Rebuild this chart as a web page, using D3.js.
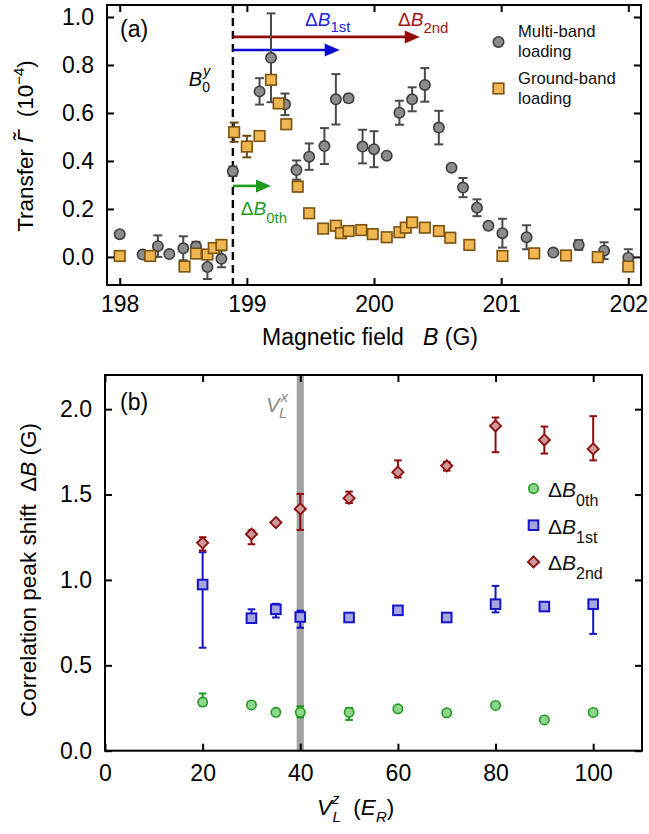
<!DOCTYPE html>
<html><head><meta charset="utf-8">
<script src="https://cdn.jsdelivr.net/npm/d3@7"></script>
<style>
body{margin:0;background:#fff;}
svg{display:block;font-family:"Liberation Sans",Arial,sans-serif;}
text{white-space:pre;}
</style></head><body>
<svg id="chart" width="649" height="834"></svg>
<script>
// ---------- Panel (a) data ----------
const multiB = [198.00,198.18,198.30,198.39,198.50,198.60,198.69,198.80,198.89,199.10,199.19,199.30,199.39,199.49,199.61,199.70,199.80,199.91,200.00,200.10,200.20,200.30,200.40,200.51,200.61,200.70,200.81,200.90,201.01,201.20,201.41,201.61,201.81,202.00];
const multiT = [0.095,0.010,0.045,0.012,0.036,0.043,-0.042,-0.008,0.357,0.690,0.830,0.636,0.362,0.418,0.462,0.657,0.661,0.460,0.449,0.422,0.601,0.657,0.717,0.539,0.372,0.289,0.205,0.130,0.099,0.082,0.018,0.050,0.026,-0.003];
const multiErr = [0,0,0.045,0,0.050,0.020,0.050,0.035,0.020,0.055,0.185,0.045,0.040,0.055,0.075,0.105,0.015,0.070,0.075,0,0.050,0.050,0.070,0.070,0.010,0.040,0.035,0.010,0.060,0.050,0,0.020,0.035,0.035];

const groundB = [198.00,198.24,198.51,198.60,198.69,198.74,198.80,198.90,199.00,199.10,199.19,199.25,199.31,199.40,199.49,199.60,199.70,199.74,199.80,199.90,199.99,200.10,200.20,200.25,200.30,200.40,200.51,200.60,200.75,201.01,201.26,201.51,201.76,202.00];
const groundT = [0.004,0.004,-0.040,0.014,0.010,0.037,0.050,0.520,0.460,0.504,0.738,0.640,0.553,0.293,0.182,0.118,0.130,0.099,0.108,0.112,0.095,0.082,0.103,0.122,0.144,0.122,0.108,0.080,0.050,0.004,0.015,0.006,-0.001,-0.040];
const groundErr = [0,0,0,0,0,0,0,0.040,0.045,0,0,0,0,0.020,0,0,0,0,0,0,0,0,0,0.020,0,0,0,0,0,0,0,0,0,0];

const aXTicks = [198,199,200,201,202];
const aYTicks = [0,0.2,0.4,0.6,0.8,1.0];
const resonanceB0 = 198.89;
const arrowNames = ["0th","1st","2nd"];
const arrowEnds = [199.19,199.73,200.36];
const arrowLevels = [0.296,0.8625,0.917];
const legendA = ["Multi-band|loading","Ground-band|loading"];

// ---------- Panel (b) data ----------
const latticeDepth = [20,30,35,40,50,60,70,80,90,100];
const shift0th   = [0.285,0.268,0.225,0.225,0.225,0.245,0.222,0.265,0.180,0.224];
const shift0thLo = [0.265,0.268,0.225,0.195,0.180,0.245,0.222,0.265,0.180,0.224];
const shift0thHi = [0.335,0.268,0.225,0.260,0.250,0.245,0.222,0.265,0.180,0.224];
const shift1st   = [0.973,0.776,0.828,0.783,0.780,0.822,0.780,0.858,0.844,0.858];
const shift1stLo = [0.603,0.750,0.780,0.720,0.780,0.822,0.780,0.810,0.844,0.684];
const shift1stHi = [1.162,0.828,0.860,0.820,0.780,0.822,0.780,0.965,0.844,0.870];
const shift2nd   = [1.217,1.268,1.336,1.416,1.479,1.631,1.668,1.902,1.820,1.767];
const shift2ndLo = [1.172,1.209,1.336,1.293,1.450,1.600,1.640,1.748,1.740,1.700];
const shift2ndHi = [1.250,1.290,1.336,1.504,1.517,1.700,1.690,1.951,1.898,1.959];
const bXTicks = [0,20,40,60,80,100];
const bYTicks = [0,0.5,1.0,1.5,2.0];
const latticeVLx = 40;

// ---------- styles ----------
const FONT = 23;
const cGreen = "#1f9a1f", cBlue = "#1414c8", cRed = "#8e0c0c";
const svg = d3.select("#chart");

function rich(g, x, y, parts, o) {
  o = o || {};
  const t = g.append("text").attr("x", x).attr("y", y)
    .attr("fill", o.fill || "#000").attr("font-size", o.size || FONT);
  if (o.anchor) t.attr("text-anchor", o.anchor);
  if (o.transform) t.attr("transform", o.transform);
  parts.forEach(p => {
    const s = t.append("tspan").text(p.t);
    if (p.i) s.attr("font-style", "italic");
    if (p.s) s.attr("font-size", p.s);
    if (p.dy) s.attr("dy", p.dy);
    if (p.dx) s.attr("dx", p.dx);
  });
  return t;
}

function styleAxis(g) {
  g.select(".domain").remove();
  g.selectAll(".tick line").attr("stroke", "#000").attr("stroke-width", 2);
  g.selectAll(".tick text").attr("font-size", FONT).attr("fill", "#000")
    .attr("font-family", '"Liberation Sans",Arial,sans-serif');
  g.attr("font-family", null).attr("font-size", null);
}

function frameAxes(g, x, y, xt, yt, xfmt, yfmt, xpad, ypad) {
  const [x0, x1] = x.range(), [y0, y1] = y.range();
  g.append("g").attr("transform", `translate(0,${y0})`)
    .call(d3.axisBottom(x).tickValues(xt).tickSize(-7).tickPadding(xpad).tickFormat(xfmt)).call(styleAxis);
  g.append("g").attr("transform", `translate(0,${y1})`)
    .call(d3.axisTop(x).tickValues(xt).tickSize(-7).tickFormat("")).call(styleAxis);
  g.append("g").attr("transform", `translate(${x0},0)`)
    .call(d3.axisLeft(y).tickValues(yt).tickSize(-7).tickPadding(ypad).tickFormat(yfmt)).call(styleAxis);
  g.append("g").attr("transform", `translate(${x1},0)`)
    .call(d3.axisRight(y).tickValues(yt).tickSize(-7).tickFormat("")).call(styleAxis);
  g.append("rect").attr("x", x0).attr("y", y1).attr("width", x1 - x0).attr("height", y0 - y1)
    .attr("fill", "none").attr("stroke", "#000").attr("stroke-width", 2);
}

// =============== Panel (a) ===============
const xa = d3.scaleLinear().domain([197.9, 202.1]).range([107, 641]);
const ya = d3.scaleLinear().domain([-0.117, 1.05]).range([285, 5]);
const ga = svg.append("g");

// dashed B0 line
ga.append("line").attr("x1", xa(resonanceB0)).attr("x2", xa(resonanceB0))
  .attr("y1", ya.range()[1]).attr("y2", ya.range()[0])
  .attr("stroke", "#000").attr("stroke-width", 2.4).attr("stroke-dasharray", "8,5");

// arrows
const arrowCols = [cGreen, "#0a0ad0", "#920a0a"];
arrowNames.forEach((n, i) => {
  const xs = xa(resonanceB0), xe = xa(arrowEnds[i]), yy = ya(arrowLevels[i]);
  ga.append("line").attr("x1", xs).attr("x2", xe - 12).attr("y1", yy).attr("y2", yy)
    .attr("stroke", arrowCols[i]).attr("stroke-width", 2.6);
  ga.append("path").attr("d", `M${xe},${yy} L${xe - 15},${yy - 6.5} L${xe - 15},${yy + 6.5} Z`)
    .attr("fill", arrowCols[i]);
});

const multi = multiB.map((b, i) => ({b, v: multiT[i], e: multiErr[i]}));
const ground = groundB.map((b, i) => ({b, v: groundT[i], e: groundErr[i]}));
function errA(g, data, col) {
  const d = data.filter(p => p.e > 0);
  const eg = g.append("g").attr("stroke", col).attr("stroke-width", 2);
  eg.selectAll(".v").data(d).join("line")
    .attr("x1", p => xa(p.b)).attr("x2", p => xa(p.b))
    .attr("y1", p => ya(p.v - p.e)).attr("y2", p => ya(p.v + p.e));
  [-1, 1].forEach(s => eg.selectAll(".c" + s).data(d).join("line")
    .attr("x1", p => xa(p.b) - 4.5).attr("x2", p => xa(p.b) + 4.5)
    .attr("y1", p => ya(p.v + s * p.e)).attr("y2", p => ya(p.v + s * p.e)));
}
errA(ga, multi, "#4a4a4a");
ga.append("g").selectAll("circle").data(multi).join("circle")
  .attr("cx", p => xa(p.b)).attr("cy", p => ya(p.v)).attr("r", 5.2)
  .attr("fill", "#8c8c8c").attr("stroke", "#3e3e3e").attr("stroke-width", 1.6);
errA(ga, ground, "#6b4a10");
ga.append("g").selectAll("rect").data(ground).join("rect")
  .attr("x", p => xa(p.b) - 5.3).attr("y", p => ya(p.v) - 5.3).attr("width", 10.6).attr("height", 10.6)
  .attr("fill", "#f0b652").attr("stroke", "#7c5210").attr("stroke-width", 1.6);

frameAxes(ga, xa, ya, aXTicks, aYTicks, d3.format("d"), d3.format(".1f"), 11, 13);

// labels panel a
rich(ga, 120, 37, [{t: "(a)"}], {size: 23});
const bx0 = xa(resonanceB0);
rich(ga, bx0 - 44, 86, [{t: "B", i: 1}, {t: "y", i: 1, s: 14, dx: 1, dy: -10}, {t: "0", s: 14, dx: -8, dy: 16}], {size: 20});
rich(ga, bx0 + 8, 215, [{t: "Δ"}, {t: "B", i: 1}, {t: "0th", s: 15, dy: 8}], {size: 19, fill: cGreen});
rich(ga, 305, 26, [{t: "Δ"}, {t: "B", i: 1}, {t: "1st", s: 15, dy: 6}], {size: 19, fill: "#2222dd"});
rich(ga, 398, 25.5, [{t: "Δ"}, {t: "B", i: 1}, {t: "2nd", s: 15, dy: 7.5}], {size: 19, fill: "#a01414"});

// legend a
ga.append("circle").attr("cx", 498.5).attr("cy", 42).attr("r", 5.2)
  .attr("fill", "#8c8c8c").attr("stroke", "#3e3e3e").attr("stroke-width", 1.6);
ga.append("rect").attr("x", 498.5 - 5.3).attr("y", 88.5 - 5.3).attr("width", 10.6).attr("height", 10.6)
  .attr("fill", "#f0b652").attr("stroke", "#7c5210").attr("stroke-width", 1.6);
legendA.forEach((s, i) => {
  const lines = s.split("|");
  lines.forEach((l, j) => rich(ga, 518, 37 + i * 46.5 + j * 20, [{t: l}], {size: 16.6, fill: "#111"}));
});

// axis titles a
rich(ga, 370, 345, [{t: "Magnetic field   "}, {t: "B", i: 1}, {t: " (G)"}], {anchor: "middle", size: 23});
rich(ga, 33, 146, [{t: "Transfer "}, {t: "Γ\u0303", i: 1}, {t: "  (10"}, {t: "−4", s: 15, dy: -9}, {t: ")", dy: 9}],
  {anchor: "middle", size: 22.5, transform: "rotate(-90,33,146)"});

// =============== Panel (b) ===============
const xb = d3.scaleLinear().domain([0, 110]).range([105, 642]);
const yb = d3.scaleLinear().domain([0, 2.2]).range([750.7, 375]);
const gb = svg.append("g");

gb.append("rect").attr("x", xb(latticeVLx) - 3.6).attr("width", 7.2)
  .attr("y", yb.range()[1]).attr("height", yb.range()[0] - yb.range()[1])
  .attr("fill", "#a3a3a3");
rich(gb, xb(latticeVLx) - 34, 412, [{t: "V", i: 1}, {t: "x", i: 1, s: 15, dx: 1, dy: -10}, {t: "L", i: 1, s: 15, dx: -9, dy: 16}],
  {size: 20, fill: "#8a8a8a"});

const seriesB = [
  {name: "0th", v: shift0th, lo: shift0thLo, hi: shift0thHi, stroke: cGreen, fill: "#8fd48f", shape: "circle"},
  {name: "1st", v: shift1st, lo: shift1stLo, hi: shift1stHi, stroke: cBlue, fill: "#a6a6de", shape: "square"},
  {name: "2nd", v: shift2nd, lo: shift2ndLo, hi: shift2ndHi, stroke: cRed, fill: "#cc9a9a", shape: "diamond"}
];
function marker(g, shape, cx, cy, fill, stroke) {
  if (shape === "circle") return g.append("circle").attr("cx", cx).attr("cy", cy).attr("r", 4.7)
    .attr("fill", fill).attr("stroke", stroke).attr("stroke-width", 1.6);
  if (shape === "square") return g.append("rect").attr("x", cx - 4.8).attr("y", cy - 4.8).attr("width", 9.6).attr("height", 9.6)
    .attr("fill", fill).attr("stroke", stroke).attr("stroke-width", 2);
  return g.append("path").attr("d", `M${cx},${cy - 5.6} L${cx + 5.6},${cy} L${cx},${cy + 5.6} L${cx - 5.6},${cy} Z`)
    .attr("fill", fill).attr("stroke", stroke).attr("stroke-width", 1.8);
}
seriesB.forEach(s => {
  const pts = latticeDepth.map((d, i) => ({d, v: s.v[i], lo: s.lo[i], hi: s.hi[i]}));
  const eg = gb.append("g").attr("stroke", s.stroke).attr("stroke-width", 2);
  pts.filter(p => p.hi > p.lo).forEach(p => {
    eg.append("line").attr("x1", xb(p.d)).attr("x2", xb(p.d)).attr("y1", yb(p.lo)).attr("y2", yb(p.hi));
    [p.lo, p.hi].filter(e => e !== p.v).forEach(e =>
      eg.append("line").attr("x1", xb(p.d) - 3.8).attr("x2", xb(p.d) + 3.8).attr("y1", yb(e)).attr("y2", yb(e)));
  });
  pts.forEach(p => marker(gb, s.shape, xb(p.d), yb(p.v), s.fill, s.stroke));
});

frameAxes(gb, xb, yb, bXTicks, bYTicks, d3.format("d"), d3.format(".1f"), 14, 13);

rich(gb, 120, 410, [{t: "(b)"}], {size: 23});

// legend b
seriesB.forEach((s, i) => {
  const cy = 488.5 + i * 36.7;
  marker(gb, s.shape, 533.5, cy, s.fill, s.stroke);
  rich(gb, 548, cy + 8.5, [{t: "Δ"}, {t: "B", i: 1}, {t: s.name, s: 16, dy: 9}], {size: 21, fill: "#111"});
});

// axis titles b
rich(gb, 36, 570, [{t: "Correlation peak shift  "}, {t: "Δ"}, {t: "B", i: 1}, {t: " (G)"}],
  {anchor: "middle", size: 22.5, transform: "rotate(-90,36,570)"});
rich(gb, 317, 815, [{t: "V", i: 1}, {t: "z", i: 1, s: 15, dy: -11}, {t: "L", i: 1, s: 15, dx: -7, dy: 18},
  {t: "  (", dy: -7}, {t: "E", i: 1}, {t: "R", i: 1, s: 15, dy: 7}, {t: ")", dy: -7}], {size: 22.5});
</script>
</body></html>
